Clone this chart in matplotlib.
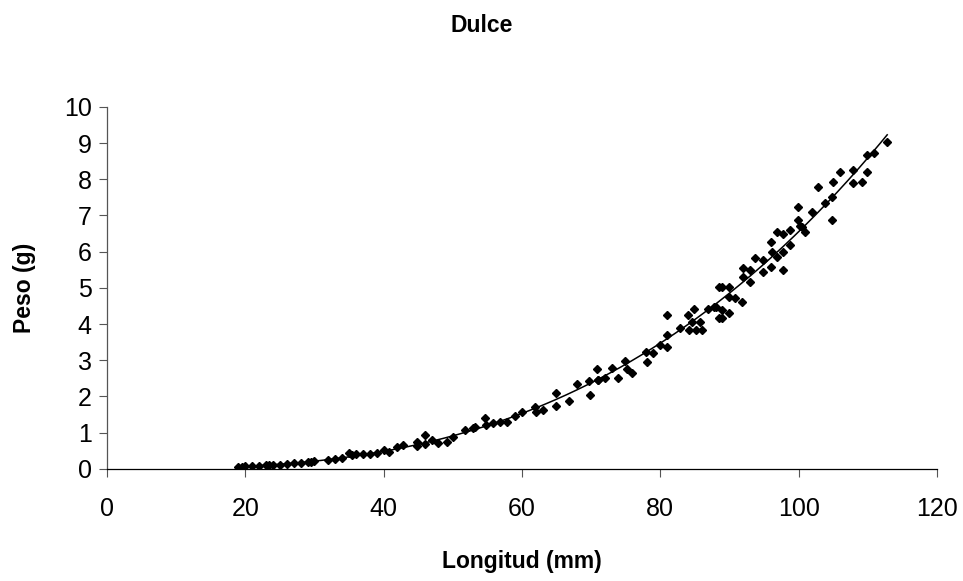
import numpy as np
import matplotlib
matplotlib.use("Agg")
import matplotlib.pyplot as plt

plt.rcParams['font.family'] = ['Liberation Sans', 'DejaVu Sans']

longitud = [19, 19.5, 20, 21, 22, 23, 23.5, 24, 25, 26, 27, 28, 29, 29.5, 30,
            32, 33, 34, 35, 35.5, 36, 37, 38, 39,
            40, 40.8, 41.9, 42.8, 44.8, 44.8, 46, 46, 47, 47.9, 49.1, 50, 51.8, 52.9,
            53.2, 54.6, 54.8, 55.8, 56.8, 57.8, 59, 60, 61.9, 62, 63, 64.9, 64.9, 66.8,
            68, 69.7, 69.8, 70.8, 71, 71, 72, 73, 73.9, 74.9, 75.2, 75.9,
            78, 78.1, 78.9, 80, 81, 81, 81, 82.8, 84, 84.9, 84.6, 84.2, 85.2, 85.7, 86,
            86.9, 87.8, 88.5, 88.5, 88, 88.9, 88.9, 89.9, 88.9, 90, 90, 90.8, 91.8,
            92, 93, 92, 93, 93.7, 94.8, 94.8, 96, 97.7, 96, 96.1, 96.9, 96.9, 97.7, 97.7,
            98.7, 98.7, 99.9, 99.9, 100.9, 100.2, 101.9, 102.8, 100.5, 103.8, 104.8, 105,
            104.8, 106, 107.8, 107.8, 109.1, 109.9, 109.9, 110.9, 112.8]

peso = [0.06, 0.06, 0.07, 0.07, 0.09, 0.10, 0.10, 0.11, 0.12, 0.13, 0.15, 0.16, 0.18, 0.19, 0.21,
        0.25, 0.27, 0.31, 0.45, 0.38, 0.40, 0.40, 0.42, 0.45,
        0.52, 0.47, 0.60, 0.66, 0.75, 0.63, 0.94, 0.70, 0.80, 0.72, 0.75, 0.89, 1.08, 1.12,
        1.17, 1.40, 1.22, 1.26, 1.30, 1.30, 1.46, 1.58, 1.70, 1.58, 1.62, 2.10, 1.75, 1.88,
        2.35, 2.43, 2.05, 2.76, 2.45, 2.46, 2.50, 2.78, 2.50, 2.98, 2.75, 2.65,
        3.23, 2.95, 3.20, 3.43, 3.70, 3.36, 4.25, 3.90, 4.25, 4.41, 4.07, 3.85, 3.85, 4.05, 3.84,
        4.42, 4.48, 5.03, 4.17, 4.48, 4.40, 4.17, 4.30, 5.03, 5.03, 4.76, 4.72, 4.62,
        5.55, 5.50, 5.30, 5.17, 5.83, 5.77, 5.44, 5.58, 5.50, 6.27, 6.00, 5.86, 6.55, 6.50, 6.00,
        6.19, 6.60, 7.24, 6.88, 6.55, 6.70, 7.10, 7.80, 6.69, 7.35, 7.50, 7.93,
        6.88, 8.20, 8.26, 7.90, 7.93, 8.20, 8.67, 8.72, 9.03]

x_ticks = [0, 20, 40, 60, 80, 100, 120]
y_ticks = list(range(0, 11))

L = np.array(longitud)
W = np.array(peso)

# potential trend line fitted from the data
b, ln_a = np.polyfit(np.log(L), np.log(W), 1)
lx = np.linspace(L.min(), L.max(), 300)
ly = np.exp(ln_a) * lx ** b

fig = plt.figure(figsize=(9.63, 5.81), dpi=100)
ax = fig.add_axes([0.111, 0.193, 0.862, 0.623])

ax.plot(L, W, linestyle='none', marker='D', markersize=4.4, color='black', zorder=3)
ax.plot(lx, ly, color='black', linewidth=1.1, zorder=2)

ax.set_xlim(0, 120)
ax.set_ylim(0, 10)
ax.set_xticks(x_ticks)
ax.set_yticks(y_ticks)
ax.tick_params(axis='both', labelsize=18, length=6, width=0.8, color='#555555', direction='out')
ax.tick_params(axis='x', pad=14)
ax.tick_params(axis='y', pad=5)
for s in ['top', 'right']:
    ax.spines[s].set_visible(False)
ax.spines['left'].set_color('#555555')
ax.spines['left'].set_linewidth(0.9)
ax.spines['bottom'].set_color('black')
ax.spines['bottom'].set_linewidth(0.9)

ax.set_xlabel('Longitud (mm)', fontsize=16.5, fontweight='bold')
ax.xaxis.set_label_coords(0.5, -0.255)
ax.xaxis.label.set_va('center')
ax.set_ylabel('Peso (g)', fontsize=16.5, fontweight='bold')
ax.yaxis.set_label_coords(-0.099, 0.5)
ax.yaxis.label.set_va('center')
fig.text(0.5, 1 - 25 / 581, 'Dulce', ha='center', va='center', fontsize=16.5, fontweight='bold')

fig.savefig('out.png', dpi=100)
